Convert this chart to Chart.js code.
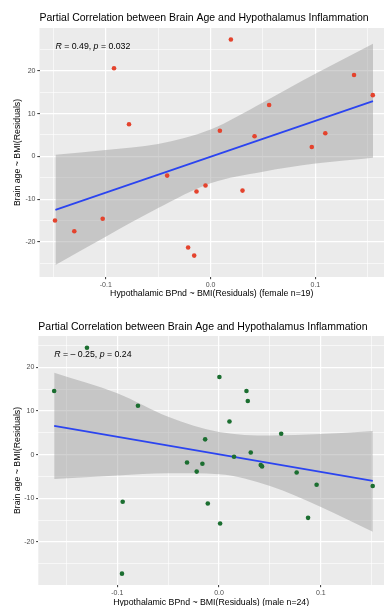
<!DOCTYPE html>
<html>
<head>
<meta charset="utf-8">
<script src="https://cdn.jsdelivr.net/npm/chart.js@4"></script>
<style>
    html, body { margin: 0; padding: 0; background: #ffffff; overflow: hidden; }
    #wrap { position: relative; width: 384px; height: 606px; }
    canvas { position: absolute; left: 0; }
    #top { top: 0; }
    #bottom { top: 300px; }
</style>
</head>
<body>
<div id="wrap">
    <canvas id="top" width="384" height="300"></canvas>
    <canvas id="bottom" width="384" height="310"></canvas>
</div>
<script>
// ---- data ----
const TITLE = 'Partial Correlation between Brain Age and Hypothalamus Inflammation';
const Y_TITLE = 'Brain age ~ BMI(Residuals)';

const xTickValues = [-0.1, 0, 0.1];
const xTickLabels = ['-0.1', '0.0', '0.1'];
const xMinorTicks = [-0.15, -0.05, 0.05, 0.15];
const yTickValues = [-20, -10, 0, 10, 20];
const yTickLabels = ['-20', '-10', '0', '10', '20'];
const yMinorTicks = [-25, -15, -5, 5, 15, 25];

// female, n = 19
const femaleX = [-0.0921, 0.0194, 0.1369, 0.1548, 0.0559, -0.0778, 0.0089, 0.0420, 0.1095, 0.0966,
                 -0.0414, -0.0134, -0.0048, 0.0305, -0.1484, -0.1300, -0.1029, -0.0214, -0.0156];
const femaleY = [20.6, 27.3, 19.0, 14.3, 12.0, 7.5, 6.0, 4.7, 5.4, 2.2,
                 -4.5, -8.2, -6.8, -8.0, -15.0, -17.5, -14.6, -21.3, -23.2];
const femaleFitX = [-0.148, 0.155];
const femaleFitY = [-12.5, 12.9];
const femaleBandX     = [-0.148, -0.1, -0.05, 0.0, 0.05, 0.1, 0.155];
const femaleBandUpper = [0.4, 1.5, 2.9, 6.3, 12.6, 19.3, 26.3];
const femaleBandLower = [-25.4, -18.8, -12.1, -6.3, -3.6, -1.7, -0.3];

// male, n = 24
const maleX = [-0.162, -0.1298, -0.0797, 0.0003, 0.0269, 0.0282, 0.0102, 0.0610, -0.0137,
               -0.0315, -0.0164, -0.0220, 0.0147, 0.0311, 0.0409, 0.0422, 0.0762, 0.0958, 0.1509,
               -0.0947, -0.0111, 0.0010, 0.0874, -0.0954];
const maleY = [14.6, 24.5, 11.2, 17.8, 14.6, 12.3, 7.6, 4.8, 3.5,
               -1.8, -2.1, -3.9, -0.5, 0.5, -2.4, -2.7, -4.1, -6.9, -7.2,
               -10.8, -11.2, -15.8, -14.5, -27.3];
const maleFitX = [-0.162, 0.151];
const maleFitY = [6.6, -6.0];
const maleBandX     = [-0.162, -0.1, -0.05, 0.0, 0.05, 0.1, 0.151];
const maleBandUpper = [18.8, 14.1, 8.7, 5.2, 4.4, 4.7, 5.4];
const maleBandLower = [-5.6, -4.8, -4.3, -4.5, -7.2, -12.0, -17.7];

// ---- style ----
const FONT       = "'Liberation Sans', Arial, Helvetica, sans-serif";
const PANEL_BG   = '#EBEBEB';
const GRID       = '#FFFFFF';
const TICK_TEXT  = '#4D4D4D';
const TICK_MARK  = '#333333';
const BAND_FILL  = 'rgba(153, 153, 153, 0.45)';
const FIT_COLOR  = '#2B44F0';
const RED        = '#E4432D';
const GREEN      = '#1B6E30';

Chart.defaults.font.family = FONT;

const zip = (xs, ys) => xs.map((x, i) => ({ x, y: ys[i] }));
const isMajor = (v, majors) => majors.some(m => Math.abs(m - v) < 1e-9);

const panelBackground = {
    id: 'panelBackground',
    beforeDraw(chart) {
        const { ctx, chartArea: a } = chart;
        ctx.save();
        ctx.fillStyle = PANEL_BG;
        ctx.fillRect(a.left, a.top, a.right - a.left, a.bottom - a.top);
        ctx.restore();
    },
};

// "R = .., p = .." label, R and p in italics, anchored in data coordinates
const corLabel = {
    id: 'corLabel',
    afterDatasetsDraw(chart, args, opts) {
        const { ctx, scales } = chart;
        let x = scales.x.getPixelForValue(opts.x);
        const y = scales.y.getPixelForValue(opts.y);
        ctx.save();
        ctx.fillStyle = '#000000';
        ctx.textBaseline = 'middle';
        ctx.textAlign = 'left';
        for (const [text, italic] of opts.parts) {
            ctx.font = `${italic ? 'italic ' : ''}8.75px ${FONT}`;
            ctx.fillText(text, x, y);
            x += ctx.measureText(text).width;
        }
        ctx.restore();
    },
};

function makeChart(canvas, cfg) {
    const majorX = xTickValues, majorY = yTickValues;
    const allX = [...xTickValues, ...xMinorTicks].sort((a, b) => a - b);
    const allY = [...yTickValues, ...yMinorTicks].sort((a, b) => a - b);

    return new Chart(canvas, {
        type: 'scatter',
        data: {
            datasets: [
                {
                    data: zip(cfg.px, cfg.py),
                    backgroundColor: cfg.color,
                    borderColor: cfg.color,
                    pointRadius: 2.3,
                    borderWidth: 0,
                    order: 0,
                },
                {
                    data: zip(cfg.fitX, cfg.fitY),
                    showLine: true,
                    borderColor: FIT_COLOR,
                    borderWidth: 1.8,
                    pointRadius: 0,
                    order: 1,
                },
                {
                    data: zip(cfg.bandX, cfg.bandLower),
                    showLine: true,
                    borderWidth: 0,
                    borderColor: 'transparent',
                    pointRadius: 0,
                    cubicInterpolationMode: 'monotone',
                    fill: false,
                    order: 2,
                },
                {
                    data: zip(cfg.bandX, cfg.bandUpper),
                    showLine: true,
                    borderWidth: 0,
                    borderColor: 'transparent',
                    backgroundColor: BAND_FILL,
                    pointRadius: 0,
                    cubicInterpolationMode: 'monotone',
                    fill: '-1',
                    order: 3,
                },
            ],
        },
        options: {
            responsive: false,
            animation: false,
            events: [],
            layout: { padding: 0, autoPadding: false },
            plugins: {
                legend: { display: false },
                tooltip: { enabled: false },
                title: {
                    display: true,
                    text: TITLE,
                    align: 'start',
                    fullSize: false,
                    color: '#000000',
                    font: { size: 10.5, weight: 'normal', lineHeight: 1.2 },
                    padding: cfg.titlePad,
                },
                corLabel: cfg.label,
            },
            scales: {
                x: {
                    type: 'linear',
                    min: cfg.xMin,
                    max: cfg.xMax,
                    afterBuildTicks: s => { s.ticks = allX.map(v => ({ value: v })); },
                    afterFit: s => {
                        s.height = cfg.xAxisH;
                        s.paddingLeft = 0;
                        s.paddingRight = 0;
                    },
                    border: { display: false },
                    grid: {
                        color: GRID,
                        lineWidth: c => isMajor(c.tick.value, majorX) ? 1.2 : 0.6,
                        tickLength: 2.2,
                        tickWidth: 1,
                        tickColor: c => isMajor(c.tick.value, majorX) ? TICK_MARK : 'rgba(0,0,0,0)',
                    },
                    ticks: {
                        autoSkip: false,
                        maxRotation: 0,
                        padding: 1.2,
                        color: TICK_TEXT,
                        font: { size: 7 },
                        callback: v => {
                            const i = xTickValues.findIndex(m => Math.abs(m - v) < 1e-9);
                            return i < 0 ? '' : xTickLabels[i];
                        },
                    },
                    title: {
                        display: true,
                        text: cfg.xTitle,
                        color: '#000000',
                        font: { size: 8.75, lineHeight: 1.2 },
                        padding: { top: 0, bottom: cfg.xTitlePad },
                    },
                },
                y: {
                    type: 'linear',
                    min: cfg.yMin,
                    max: cfg.yMax,
                    afterBuildTicks: s => { s.ticks = allY.map(v => ({ value: v })); },
                    afterFit: s => {
                        s.width = cfg.yAxisW;
                        s.paddingTop = 0;
                        s.paddingBottom = 0;
                    },
                    border: { display: false },
                    grid: {
                        color: GRID,
                        lineWidth: c => isMajor(c.tick.value, majorY) ? 1.2 : 0.6,
                        tickLength: 2.2,
                        tickWidth: 1,
                        tickColor: c => isMajor(c.tick.value, majorY) ? TICK_MARK : 'rgba(0,0,0,0)',
                    },
                    ticks: {
                        autoSkip: false,
                        padding: 1.8,
                        color: TICK_TEXT,
                        font: { size: 7 },
                        callback: v => {
                            const i = yTickValues.findIndex(m => Math.abs(m - v) < 1e-9);
                            return i < 0 ? '' : yTickLabels[i];
                        },
                    },
                    title: {
                        display: true,
                        text: Y_TITLE,
                        color: '#000000',
                        font: { size: 8.75, lineHeight: 1.2 },
                        padding: { top: 12.7, bottom: 0 },
                    },
                },
            },
        },
        plugins: [panelBackground, corLabel],
    });
}

makeChart(document.getElementById('top'), {
    px: femaleX, py: femaleY, color: RED,
    fitX: femaleFitX, fitY: femaleFitY,
    bandX: femaleBandX, bandUpper: femaleBandUpper, bandLower: femaleBandLower,
    xMin: -0.1632, xMax: 0.1655, yMin: -28.2, yMax: 30.0,
    xAxisH: 23, yAxisW: 39.5, xTitlePad: 1.4,
    titlePad: { top: 12, bottom: 3.4 },
    xTitle: 'Hypothalamic BPnd ~ BMI(Residuals) (female n=19)',
    label: { x: -0.148, y: 25.7, parts: [['R', true], [' = 0.49, ', false], ['p', true], [' = 0.032', false]] },
});

makeChart(document.getElementById('bottom'), {
    px: maleX, py: maleY, color: GREEN,
    fitX: maleFitX, fitY: maleFitY,
    bandX: maleBandX, bandUpper: maleBandUpper, bandLower: maleBandLower,
    xMin: -0.1776, xMax: 0.162, yMin: -29.9, yMax: 27.2,
    xAxisH: 25, yAxisW: 38.3, xTitlePad: 2.0,
    titlePad: { top: 20.4, bottom: 3.0 },
    xTitle: 'Hypothalamic BPnd ~ BMI(Residuals) (male n=24)',
    label: { x: -0.162, y: 23.0, parts: [['R', true], [' = \u2013 0.25, ', false], ['p', true], [' = 0.24', false]] },
});
</script>
</body>
</html>
